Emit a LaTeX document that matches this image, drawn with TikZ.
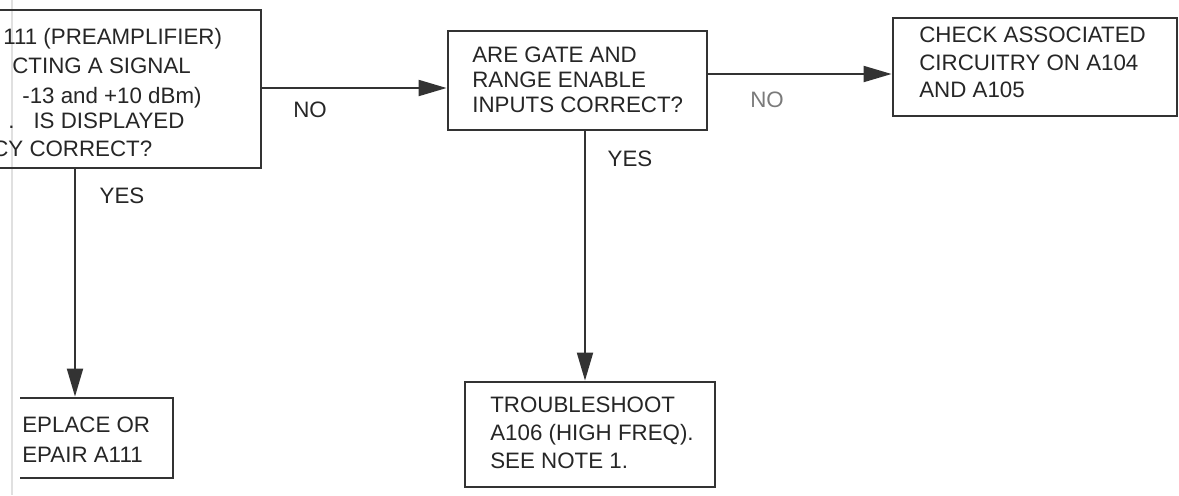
\documentclass[tikz,border=0pt]{standalone}
\usepackage{fontspec}
\setmainfont{Liberation Sans}
\usetikzlibrary{arrows.meta,fit}
\definecolor{ink}{HTML}{333333}
\definecolor{inkt}{HTML}{262626}
\definecolor{soft}{HTML}{7A7A7A}
\begin{document}
\begin{tikzpicture}[x=0.02cm,y=-0.02cm,
  box/.style={draw=ink, line width=1.6pt, inner sep=0pt},
  tx/.style={anchor=north west, inner sep=0pt, text=inkt, align=left},
  lbl/.style={inner sep=0pt, text=inkt, font=\fontsize{12.7}{15}\selectfont},
  arr/.style={draw=ink, line width=1.1pt, -{Triangle[length=0.56cm,width=0.32cm]}}]
\useasboundingbox (0,0) rectangle (1179,495);
\fill[white] (0,0) rectangle (1179,495);
\clip (0,0) rectangle (1179,495);
\draw[black!12, line width=0.8pt] (12,0) -- (12,495);
% boxes
\node[box, fit={(-30,10) (261,168)}] (b1) {};
\node[box, fit={(448,31) (707,130)}] (b2) {};
\node[box, fit={(893,18) (1177,116)}] (b4) {};
\node[box, fit={(465,382) (715,487)}] (b3) {};
\begin{scope}
\clip (20,0) rectangle (1179,495);
\node[box, fit={(-30,398) (173,478)}] (b5) {};
\end{scope}
% texts
\begin{scope}[font=\fontsize{12.7}{16}\selectfont]
\node[tx] (t11) at (3,28) {111 (PREAMPLIFIER)};
\node[tx] (t12) at (12,58) {CTING A SIGNAL};
\node[tx] (t13) at (22,87) {-13 and +10 dBm)};
\node[tx] (t14) at (8,113) {.\hspace{0.38cm}IS DISPLAYED};
\node[tx] (t15) at (-8,141) {CY CORRECT?};
\end{scope}
\node[tx, font=\fontsize{12.7}{14.2}\selectfont] (t2) at (472,47) {ARE GATE AND\\RANGE ENABLE\\INPUTS CORRECT?};
\node[tx, font=\fontsize{12.7}{15.6}\selectfont] (t4) at (919,27) {CHECK ASSOCIATED\\CIRCUITRY ON A104\\AND A105};
\node[tx, font=\fontsize{12.7}{15.9}\selectfont] (t3) at (490,397) {TROUBLESHOOT\\A106 (HIGH FREQ).\\SEE NOTE 1.};
\node[tx, font=\fontsize{12.7}{17}\selectfont] (t5) at (22,417) {EPLACE OR\\EPAIR A111};
% connectors
\coordinate (y1) at (0,88);
\coordinate (y2) at (0,74);
\coordinate (x1) at (75,0);
\coordinate (x2) at (585,0);
\draw[arr] (b1.east |- y1) -- (b2.west |- y1);
\draw[arr] (b2.east |- y2) -- (b4.west |- y2);
\draw[arr] (b1.south -| x1) -- (b5.north -| x1);
\draw[arr] (b2.south -| x2) -- (b3.north -| x2);
% labels
\node[lbl] (no1) at (310,110) {NO};
\node[lbl] (yes1) at (122,196) {YES};
\node[lbl, text=soft] (no2) at (767,100) {NO};
\node[lbl] (yes2) at (630,159) {YES};
\end{tikzpicture}
\end{document}
